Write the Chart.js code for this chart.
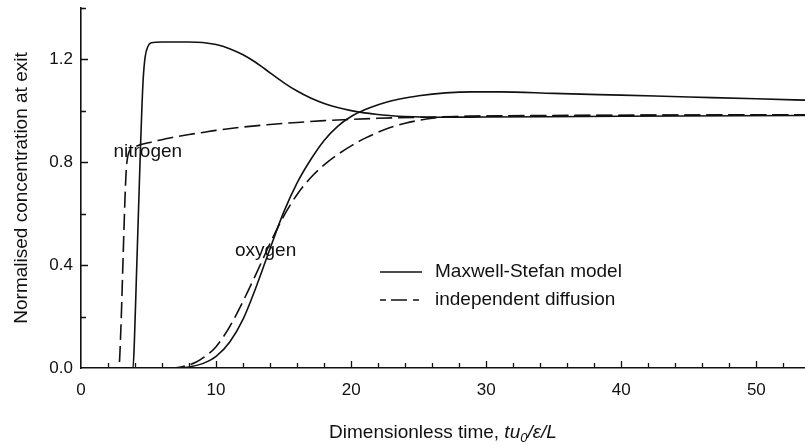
<!DOCTYPE html>
<html>
<head>
<meta charset="utf-8">
<script src="https://cdn.jsdelivr.net/npm/chart.js@4.4.1/dist/chart.umd.min.js"></script>
<style>
  html, body { margin: 0; padding: 0; background: #fff; }
  #wrap { width: 805px; height: 445px; }
</style>
</head>
<body>
<div id="wrap"><canvas id="chart" width="805" height="445"></canvas></div>
<script>
// nitrogen, Maxwell-Stefan
const N_MS_X = [0, 3.85, 3.95, 4.1, 4.25, 4.4, 4.5, 4.6, 4.75, 4.95, 5.2, 6, 8, 9, 10, 11, 12, 13, 14, 15, 16, 17, 18, 19, 20, 21, 22, 23, 24, 26, 30, 40, 54];
const N_MS_Y = [0, 0, 0.1, 0.35, 0.6, 0.85, 1.0, 1.12, 1.21, 1.25, 1.265, 1.268, 1.268, 1.266, 1.258, 1.242, 1.218, 1.186, 1.148, 1.11, 1.077, 1.05, 1.029, 1.013, 1.001, 0.992, 0.986, 0.981, 0.978, 0.975, 0.976, 0.979, 0.982];
// nitrogen, independent diffusion
const N_ID_X = [0, 2.8, 2.95, 3.1, 3.25, 3.35, 3.45, 3.6, 4, 5, 6, 7, 8, 9, 10, 12, 14, 16, 18, 20, 22, 25, 30, 40, 54];
const N_ID_Y = [0, 0, 0.15, 0.4, 0.65, 0.77, 0.82, 0.845, 0.86, 0.876, 0.888, 0.899, 0.908, 0.916, 0.924, 0.937, 0.947, 0.955, 0.962, 0.967, 0.971, 0.975, 0.979, 0.982, 0.985];
// oxygen, Maxwell-Stefan
const O_MS_X = [0, 7, 8, 9, 10, 11, 12, 13, 14, 15, 16, 17, 18, 19, 20, 21, 22, 23, 24, 25, 27, 29, 31, 35, 40, 45, 50, 54];
const O_MS_Y = [0, 0, 0.004, 0.017, 0.045, 0.1, 0.19, 0.32, 0.465, 0.605, 0.72, 0.81, 0.885, 0.94, 0.978, 1.004, 1.024, 1.039, 1.05, 1.059, 1.07, 1.074, 1.074, 1.068, 1.061, 1.054, 1.047, 1.041];
// oxygen, independent diffusion
const O_ID_X = [0, 6.5, 7.5, 8.5, 9, 10, 11, 12, 13, 14, 15, 16, 17, 18, 19, 20, 21, 22, 23, 24, 25, 26, 27, 30, 40, 54];
const O_ID_Y = [0, 0, 0.005, 0.022, 0.038, 0.083, 0.16, 0.26, 0.37, 0.485, 0.59, 0.675, 0.74, 0.79, 0.83, 0.864, 0.893, 0.917, 0.937, 0.952, 0.963, 0.971, 0.976, 0.98, 0.983, 0.985];

const X_TICKS = [0, 10, 20, 30, 40, 50];
const Y_TICKS = [0, 0.4, 0.8, 1.2];
const LEGEND_LABELS = ["Maxwell-Stefan model", "independent diffusion"];
const CURVE_NAMES = ["nitrogen", "oxygen"];

const INK = "#111";
const FONT = "'Liberation Sans', Arial, Helvetica, sans-serif";
const DASH = [16, 6];

const pts = (xs, ys) => xs.map((x, i) => ({ x, y: ys[i] }));

function line(label, xs, ys, dashed) {
    return {
        label,
        data: pts(xs, ys),
        borderColor: INK,
        borderWidth: 1.6,
        borderDash: dashed ? DASH : [],
        pointRadius: 0,
        fill: false,
        cubicInterpolationMode: "monotone",
    };
}

// ticks inside the axes, curve names, legend and the x title
const overlay = {
    id: "overlay",
    afterDatasetsDraw(chart) {
        const { ctx, scales: { x, y } } = chart;
        const x0 = x.getPixelForValue(0);
        const y0 = y.getPixelForValue(0);
        ctx.save();
        ctx.strokeStyle = INK;
        ctx.lineWidth = 1.3;
        ctx.beginPath();
        for (let v = 2; v <= x.max; v += 2) {
            const px = Math.round(x.getPixelForValue(v)) + 0.5;
            const len = v % 10 === 0 ? 7 : 5;
            ctx.moveTo(px, y0);
            ctx.lineTo(px, y0 - len);
        }
        for (let k = 1; k <= 7; k++) {
            const v = k * 0.2;
            const py = Math.round(y.getPixelForValue(v)) + 0.5;
            const len = k % 2 === 0 ? 7 : 5;
            ctx.moveTo(x0, py);
            ctx.lineTo(x0 + len, py);
        }
        ctx.stroke();

        ctx.fillStyle = INK;
        ctx.font = "19px " + FONT;
        ctx.textBaseline = "middle";
        ctx.textAlign = "left";
        ctx.fillText(CURVE_NAMES[0], x.getPixelForValue(2.4), y.getPixelForValue(0.84));
        ctx.fillText(CURVE_NAMES[1], x.getPixelForValue(11.4), y.getPixelForValue(0.457));

        // legend
        const lx = 380, rows = [272, 300];
        ctx.lineWidth = 1.6;
        rows.forEach((ly, i) => {
            ctx.setLineDash(i === 1 ? [6, 5, 16, 6] : []);
            ctx.beginPath();
            ctx.moveTo(lx, ly);
            ctx.lineTo(lx + 42, ly);
            ctx.stroke();
            ctx.fillText(LEGEND_LABELS[i], lx + 55, ly);
        });
        ctx.setLineDash([]);

        // x title with italic tu0/e/L
        const parts = [
            { t: "Dimensionless time, ", f: "19px " + FONT, dy: 0 },
            { t: "tu", f: "italic 19px " + FONT, dy: 0 },
            { t: "0", f: "italic 13px " + FONT, dy: 5 },
            { t: "/\u03B5/L", f: "italic 19px " + FONT, dy: 0 },
        ];
        let w = 0;
        parts.forEach(p => { ctx.font = p.f; w += ctx.measureText(p.t).width; });
        let cx = (chart.chartArea.left + chart.chartArea.right) / 2 - w / 2;
        const ty = 433;
        parts.forEach(p => {
            ctx.font = p.f;
            ctx.fillText(p.t, cx, ty + p.dy);
            cx += ctx.measureText(p.t).width;
        });
        ctx.restore();
    },
};

new Chart(document.getElementById("chart"), {
    type: "line",
    data: {
        datasets: [
            line("nitrogen " + LEGEND_LABELS[0], N_MS_X, N_MS_Y, false),
            line("nitrogen " + LEGEND_LABELS[1], N_ID_X, N_ID_Y, true),
            line("oxygen " + LEGEND_LABELS[0], O_MS_X, O_MS_Y, false),
            line("oxygen " + LEGEND_LABELS[1], O_ID_X, O_ID_Y, true),
        ],
    },
    options: {
        responsive: false,
        animation: false,
        layout: { padding: { top: 8, right: 0, bottom: 0, left: 0 } },
        plugins: { legend: { display: false }, tooltip: { enabled: false } },
        scales: {
            x: {
                type: "linear",
                min: 0,
                max: 53.6,
                afterBuildTicks: (s) => { s.ticks = X_TICKS.map(v => ({ value: v })); },
                afterFit: (s) => { s.height = 77; s.paddingLeft = 0; s.paddingRight = 0; },
                grid: { display: false, drawTicks: false },
                border: { display: true, color: INK, width: 1.6 },
                ticks: {
                    color: INK,
                    padding: 12,
                    maxRotation: 0,
                    font: { family: FONT, size: 17 },
                    callback: (v) => String(v),
                },
            },
            y: {
                type: "linear",
                min: 0,
                max: 1.4,
                afterBuildTicks: (s) => { s.ticks = Y_TICKS.map(v => ({ value: v })); },
                afterFit: (s) => { s.width = 81; s.paddingTop = 0; s.paddingBottom = 0; },
                grid: { display: false, drawTicks: false },
                border: { display: true, color: INK, width: 1.6 },
                title: {
                    display: true,
                    text: "Normalised concentration at exit",
                    color: INK,
                    font: { family: FONT, size: 19 },
                    padding: { top: 10, bottom: 0 },
                },
                ticks: {
                    color: INK,
                    padding: 8,
                    font: { family: FONT, size: 17 },
                    callback: (v) => v.toFixed(1),
                },
            },
        },
    },
    plugins: [overlay],
});
</script>
</body>
</html>
